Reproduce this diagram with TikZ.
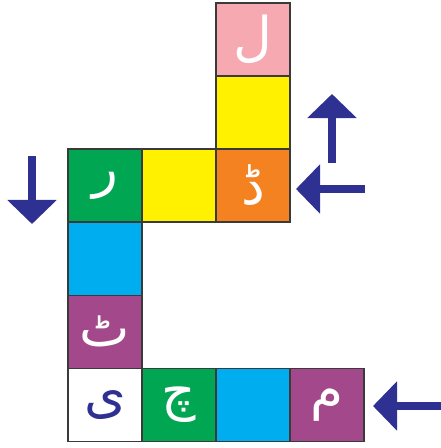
\documentclass[tikz,border=0pt]{standalone}
\usepackage{fontspec}
\usepackage{tikz}
\usetikzlibrary{positioning,arrows.meta}
\newfontfamily\urdu[Script=Arabic]{DejaVu Sans}
\TeXXeTstate=1
\definecolor{ink}{HTML}{3A3A3A}
\definecolor{arrblue}{HTML}{2E3192}
\definecolor{sqpink}{HTML}{F6A9B0}
\definecolor{sqyellow}{HTML}{FFF100}
\definecolor{sqorange}{HTML}{F58220}
\definecolor{sqgreen}{HTML}{00A651}
\definecolor{sqcyan}{HTML}{00AEEF}
\definecolor{sqpurple}{HTML}{A3488A}
\newcommand{\ur}[1]{\urdu\fontsize{38}{38}\selectfont\beginR #1\endR}
\tikzset{
  sq/.style={draw=ink,line width=0.8pt,minimum width=1.85cm,minimum height=1.825cm,inner sep=0pt,outer sep=0pt,text=white,font=\urdu},
  bigarr/.style={draw=arrblue,line width=0.2cm,-{Triangle[length=0.6cm,width=1.2cm]}},
}
\begin{document}
\begin{tikzpicture}[x=0.025cm,y=-0.025cm,node distance=0pt]
\useasboundingbox (0,0) rectangle (441,448);

% ---- upper column
\node[sq,fill=sqpink] (lam) at (253,39.5) {\ur{ل}};
\node[sq,fill=sqyellow,below=of lam] (yel1) {};
\node[sq,fill=sqorange,below=of yel1] (ddal) {\ur{ڈ}};

% ---- turn left
\node[sq,fill=sqyellow,left=of ddal] (yel2) {};
\node[sq,fill=sqgreen,left=of yel2] (re) {\ur{ر}};

% ---- left column
\node[sq,fill=sqcyan,below=of re] (cyan1) {};
\node[sq,fill=sqpurple,below=of cyan1] (tte) {\ur{ٹ}};
\node[sq,fill=white,text=arrblue,below=of tte] (ye) {\ur{ی}};

% ---- bottom row
\node[sq,fill=sqgreen,right=of ye] (che) {\ur{چ}};
\node[sq,fill=sqcyan,right=of che] (cyan2) {};
\node[sq,fill=sqpurple,right=of cyan2] (mim) {\ur{م}};

% ---- arrows
\coordinate (upS) at (332,163);  \coordinate (upE) at (332,94);
\coordinate (midS) at (365,189); \coordinate (midE) at (296,189);
\coordinate (dnS) at (32,156);   \coordinate (dnE) at (32,224);
\coordinate (botS) at (441,406); \coordinate (botE) at (373,406);
\draw[bigarr] (upS) -- (upE);
\draw[bigarr] (midS) -- (midE);
\draw[bigarr] (dnS) -- (dnE);
\draw[bigarr] (botS) -- (botE);

\end{tikzpicture}
\end{document}
